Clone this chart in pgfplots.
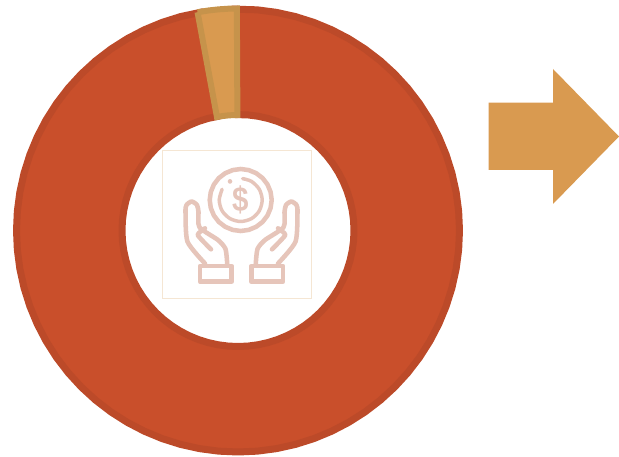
\documentclass[border=0pt]{standalone}
\usepackage{pgfplots}
\usepackage{fontspec}
\setmainfont{Liberation Sans}
\usepgfplotslibrary{polar}
\pgfplotsset{compat=1.18}
\definecolor{ringfill}{HTML}{C94F2B}
\definecolor{ringedge}{HTML}{BC4A29}
\definecolor{slicefill}{HTML}{D99A50}
\definecolor{sliceedge}{HTML}{C6934B}
\definecolor{arrowfill}{HTML}{D99A50}
\definecolor{iconpink}{HTML}{E6C5BA}
\definecolor{boxedge}{HTML}{F5E6D3}
% 1 px of the reference = 0.75pt
\begin{document}
\begin{tikzpicture}[x=1pt,y=1pt]
\path[use as bounding box] (0,0) rectangle (464.25,342.75);

% donut, radius and angle in px and degrees, centre at px (238,230.5)
\begin{polaraxis}[
    at={(178.5pt,169.875pt)}, anchor=center,
    scale only axis, width=360pt, height=360pt,
    xmin=0, xmax=360, ymin=0, ymax=240,
    hide axis, clip=false,
]
\addplot[fill=ringfill, draw=ringedge, line width=5.25pt, line join=round] coordinates {
(99,221.5)(105,221.5)(110,221.5)(115,221.5)(120,221.5)(125,221.5)(130,221.5)(135,221.5)(140,221.5)(145,221.5)
(150,221.5)(155,221.5)(160,221.5)(165,221.5)(170,221.5)(175,221.5)(180,221.5)(185,221.5)(190,221.5)(195,221.5)
(200,221.5)(205,221.5)(210,221.5)(215,221.5)(220,221.5)(225,221.5)(230,221.5)(235,221.5)(240,221.5)(245,221.5)
(250,221.5)(255,221.5)(260,221.5)(265,221.5)(270,221.5)(275,221.5)(280,221.5)(285,221.5)(290,221.5)(295,221.5)
(300,221.5)(305,221.5)(310,221.5)(315,221.5)(320,221.5)(325,221.5)(330,221.5)(335,221.5)(340,221.5)(345,221.5)
(350,221.5)(355,221.5)(360,221.5)(5,221.5)(10,221.5)(15,221.5)(20,221.5)(25,221.5)(30,221.5)(35,221.5)
(40,221.5)(45,221.5)(50,221.5)(55,221.5)(60,221.5)(65,221.5)(70,221.5)(75,221.5)(80,221.5)(85,221.5)(91.5,221.5)
(91.5,116)(85,116)(80,116)(75,116)(70,116)(65,116)(60,116)(55,116)(50,116)(45,116)(40,116)
(35,116)(30,116)(25,116)(20,116)(15,116)(10,116)(5,116)(360,116)(355,116)(350,116)
(345,116)(340,116)(335,116)(330,116)(325,116)(320,116)(315,116)(310,116)(305,116)(300,116)
(295,116)(290,116)(285,116)(280,116)(275,116)(270,116)(265,116)(260,116)(255,116)(250,116)
(245,116)(240,116)(235,116)(230,116)(225,116)(220,116)(215,116)(210,116)(205,116)(200,116)
(195,116)(190,116)(185,116)(180,116)(175,116)(170,116)(165,116)(160,116)(155,116)(150,116)
(145,116)(140,116)(135,116)(130,116)(125,116)(120,116)(115,116)(110,116)(105,116)(99,116)
(99,221.5)
};
\addplot[fill=slicefill, draw=sliceedge, line width=4.5pt, line join=miter] coordinates {
(100.5,222)(97.5,222)(95,222)(92.5,222)(90.3,222)
(90.3,115.5)(92.5,115.5)(95,115.5)(97.5,115.5)(100.5,115.5)
(100.5,222)
};
\end{polaraxis}

% arrow and icon, in px of the reference
\begin{axis}[
    at={(0pt,0pt)}, anchor=south west,
    scale only axis, width=464.25pt, height=342.75pt,
    xmin=0, xmax=619, ymin=0, ymax=457, y dir=reverse,
    hide axis, clip=false,
]
% arrow
\addplot[fill=arrowfill, draw=none] coordinates {
(488.5,102.7)(553,102.7)(553,69)(619,136.5)(553,204)(553,170)(488.5,170)(488.5,102.7)
};
% icon box
\addplot[fill=white, draw=boxedge, line width=0.6pt] coordinates {
(162,150)(311,150)(311,298.5)(162,298.5)(162,150)
};
% coin
\addplot[draw=iconpink, line width=3.4pt] coordinates {
(271.7,200)(270.6,208)(267.5,215.5)(262.6,221.9)(256.2,226.8)(248.7,229.9)(240.7,231)(232.7,229.9)
(225.2,226.8)(218.8,221.9)(213.9,215.5)(210.8,208)(209.7,200)(210.8,192)(213.9,184.5)(218.8,178.1)
(225.2,173.2)(232.7,170.1)(240.7,169)(248.7,170.1)(256.2,173.2)(262.6,178.1)(267.5,184.5)(270.6,192)(271.7,200)(270.6,208)
};
\addplot[draw=iconpink, line width=2.6pt, smooth, line cap=round] coordinates {
(242.6,178.6)(251.5,181.4)(259.3,189.3)(262.2,200)(259.3,210.8)(251.5,218.6)(240.7,221.5)(230,218.6)(222.1,210.8)(219.2,200)(222.1,189.3)
};
\addplot[only marks, mark=*, mark size=1.5pt, mark options={draw=iconpink, fill=iconpink}] coordinates {(230,181.4)};
\node[text=iconpink, font=\bfseries\fontsize{26}{26}\selectfont, inner sep=0pt, xscale=0.85] at (axis cs:240.7,200) {\$};
% left hand
\addplot[draw=iconpink, line width=3.4pt, smooth, tension=0.4, line cap=round, line join=round] coordinates {
(205,263.5)(187.5,241.7)(185.5,212)(186.5,205)(191.7,201.5)(197,205)(198.5,212)(199.5,227.3)(218,240)(225.5,249)(227.3,265)
};
\addplot[draw=iconpink, line width=3.4pt, line cap=round, line join=round, smooth, tension=0.3] coordinates {
(205,228.3)(197.7,235)(211,249.3)
};
\addplot[draw=iconpink, line width=3.4pt, line join=round] coordinates {
(200,266)(231.7,266)(231.7,281.7)(200,281.7)(200,266)(231.7,266)
};
% right hand
\addplot[draw=iconpink, line width=3.4pt, smooth, tension=0.4, line cap=round, line join=round] coordinates {
(278,263.5)(295.5,241.7)(297.5,212)(296.5,205)(291.3,201.5)(286,205)(284.5,212)(283.5,227.3)(265,240)(257.5,249)(255.7,265)
};
\addplot[draw=iconpink, line width=3.4pt, line cap=round, line join=round, smooth, tension=0.3] coordinates {
(278,228.3)(285.3,235)(272,249.3)
};
\addplot[draw=iconpink, line width=3.4pt, line join=round] coordinates {
(283,266)(251.3,266)(251.3,281.7)(283,281.7)(283,266)(251.3,266)
};
\end{axis}
\end{tikzpicture}
\end{document}
